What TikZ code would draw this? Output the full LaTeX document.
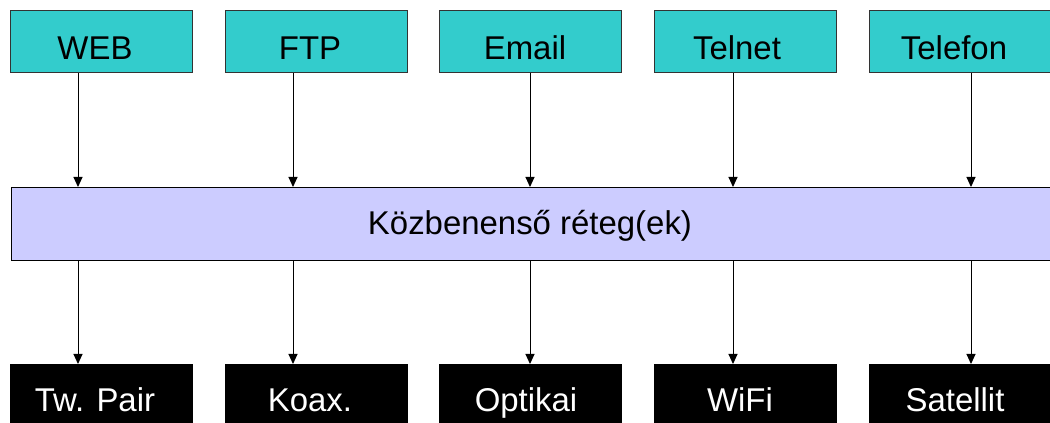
\documentclass[tikz,border=0pt]{standalone}
\usepackage{fontspec}
\setmainfont{Liberation Sans}
\usetikzlibrary{arrows.meta}
\definecolor{tealc}{HTML}{33CCCC}
\definecolor{lav}{HTML}{CCCCFF}
\definecolor{edge}{HTML}{333333}
\begin{document}
\begin{tikzpicture}[x=0.75pt,y=-0.75pt,
  topbox/.style={draw=edge, fill=tealc, line width=0.75pt, minimum width=136.5pt, minimum height=46.5pt, inner sep=0pt, anchor=north west},
  botbox/.style={draw=black, fill=black, line width=0.75pt, minimum width=136.5pt, minimum height=60pt, inner sep=0pt, anchor=north west},
  midbar/.style={draw=black, fill=lav, line width=0.75pt, minimum width=787.5pt, minimum height=54.75pt, inner sep=0pt, anchor=north west},
  lbl/.style={font=\fontsize{24.7}{28}\selectfont, inner sep=0pt, anchor=base},
  toplbl/.style={lbl, text=black},
  botlbl/.style={lbl, text=white},
  arr/.style={draw=black, line width=0.75pt, -{Triangle[length=7.5pt, width=6.75pt]}}]
\useasboundingbox (0,0) rectangle (1050,423);
\clip (0,0) rectangle (1050,423);
\fill[white] (0,0) rectangle (1050,423);
% top boxes
\node[topbox] (web) at (10,10) {};
\node[topbox] (ftp) at (225,10) {};
\node[topbox] (email) at (439,10) {};
\node[topbox] (telnet) at (654,10) {};
\node[topbox] (telefon) at (869,10) {};
\node[toplbl] (webt) at (95,60) {WEB};
\node[toplbl] (ftpt) at (310,60) {FTP};
\node[toplbl] (emailt) at (525,60) {Email};
\node[toplbl] (telnett) at (737,60) {Telnet};
\node[toplbl] (telefont) at (954,60) {Telefon};
% middle bar
\node[midbar] (mid) at (11,187) {};
\node[lbl] (midt) at (530,235) {Közbenenső réteg(ek)};
% bottom boxes
\node[botbox] (tw) at (10,364) {};
\node[botbox] (koax) at (225,364) {};
\node[botbox] (opt) at (439,364) {};
\node[botbox] (wifi) at (654,364) {};
\node[botbox] (sat) at (869,364) {};
\node[botlbl] (twt) at (95,412) {Tw. Pair};
\node[botlbl] (koaxt) at (310,412) {Koax.};
\node[botlbl] (optt) at (526,412) {Optikai};
\node[botlbl] (wifit) at (740,412) {WiFi};
\node[botlbl] (satt) at (955,412) {Satellit};
% arrow columns
\coordinate (c1) at (78,0);
\coordinate (c2) at (293,0);
\coordinate (c3) at (530,0);
\coordinate (c4) at (733,0);
\coordinate (c5) at (971,0);
\draw[arr] (web.south -| c1) -- (mid.north -| c1);
\draw[arr] (ftp.south -| c2) -- (mid.north -| c2);
\draw[arr] (email.south -| c3) -- (mid.north -| c3);
\draw[arr] (telnet.south -| c4) -- (mid.north -| c4);
\draw[arr] (telefon.south -| c5) -- (mid.north -| c5);
\draw[arr] (mid.south -| c1) -- (tw.north -| c1);
\draw[arr] (mid.south -| c2) -- (koax.north -| c2);
\draw[arr] (mid.south -| c3) -- (opt.north -| c3);
\draw[arr] (mid.south -| c4) -- (wifi.north -| c4);
\draw[arr] (mid.south -| c5) -- (sat.north -| c5);
\end{tikzpicture}
\end{document}
